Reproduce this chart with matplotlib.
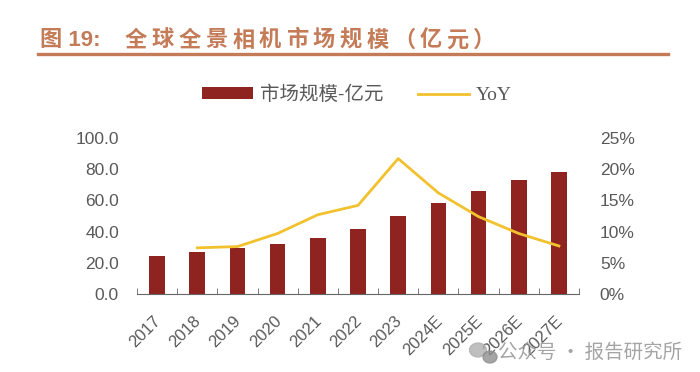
import numpy as np
import matplotlib
matplotlib.use('Agg')
import matplotlib.pyplot as plt
import matplotlib.transforms as mtransforms
from matplotlib.patches import Ellipse
from matplotlib.ticker import FuncFormatter, FixedLocator

plt.rcParams['font.family'] = ['Liberation Sans', 'Noto Sans CJK SC', 'DejaVu Sans']

# Data
years = ['2017', '2018', '2019', '2020', '2021', '2022', '2023',
         '2024E', '2025E', '2026E', '2027E']
market = [24.5, 26.7, 29.3, 31.8, 36.1, 41.5, 50.2, 58.5, 66.0, 72.9, 78.4]
yoy = [np.nan, 7.4, 7.6, 9.7, 12.7, 14.2, 21.7, 16.2, 12.4, 9.7, 7.7]

bar_color = '#8E2320'
line_color = '#F2C12E'
text_gray = '#595959'
title_color = '#C47B57'

W, H = 700, 372
fig = plt.figure(figsize=(W / 100, H / 100), dpi=100)

# title: spaced-out characters, then underline
title_y = 1 - 40 / H
fig.text(40 / W, title_y, '图 19:', fontsize=16, fontweight='bold',
         color=title_color, va='center', ha='left')
title_chars = '全球全景相机市场规模（亿元）'
for i, ch in enumerate(title_chars):
    fig.text((125 + 26.8 * i) / W, title_y, ch, fontsize=16, fontweight='bold',
             color=title_color, va='center', ha='left', family='Noto Sans CJK SC')
fig.add_artist(plt.Line2D([38 / W, 668 / W], [1 - 54 / H, 1 - 54 / H],
                          color=title_color, linewidth=2.4))

ax = fig.add_axes([137 / W, 1 - 294 / H, 442 / W, 156 / H])
x = np.arange(len(years))
ax.bar(x, market, width=0.39, color=bar_color, label='市场规模-亿元', zorder=2)
ax.set_xlim(-0.5, len(years) - 0.5)
ax.set_ylim(0, 100)
ax.set_yticks(np.arange(0, 101, 20))
ax.yaxis.set_major_formatter(FuncFormatter(lambda v, p: f'{v:.1f}'))
ax.tick_params(axis='y', length=0, labelsize=12.5, labelcolor=text_gray, pad=13)

ax.set_xticks(x)
ax.set_xticklabels(years, rotation=45, ha='right', rotation_mode='anchor',
                   fontsize=12, color=text_gray)
ax.tick_params(axis='x', which='major', length=0, pad=10)
shift = mtransforms.ScaledTranslation(-4 / 100, -5 / 100, fig.dpi_scale_trans)
for lab in ax.get_xticklabels():
    lab.set_transform(lab.get_transform() + shift)
ax.xaxis.set_minor_locator(FixedLocator(np.arange(-0.5, len(years), 1.0)))
ax.tick_params(axis='x', which='minor', direction='in', length=4, color='#666666')

for s in ['top', 'left', 'right']:
    ax.spines[s].set_visible(False)
ax.spines['bottom'].set_color('#666666')

ax2 = ax.twinx()
ax2.plot(x, yoy, color=line_color, linewidth=2, label='YoY', zorder=3)
ax2.set_ylim(0, 25)
ax2.set_yticks(np.arange(0, 26, 5))
ax2.yaxis.set_major_formatter(FuncFormatter(lambda v, p: f'{v:.0f}%'))
ax2.tick_params(axis='y', length=0, labelsize=12.5, labelcolor=text_gray, pad=15)
for s in ['top', 'left', 'right', 'bottom']:
    ax2.spines[s].set_visible(False)

h1, l1 = ax.get_legend_handles_labels()
h2, l2 = ax2.get_legend_handles_labels()
leg = fig.legend(h1 + h2, l1 + l2, loc='center', bbox_to_anchor=(357 / W, 1 - 95 / H),
                 ncol=2, frameon=False, fontsize=14, handlelength=2.6,
                 handleheight=0.55, columnspacing=1.8, handletextpad=0.35,
                 labelcolor=text_gray)
leg.get_texts()[1].set_family('Liberation Serif')

# watermark (wechat-style icon + text)
fig.add_artist(Ellipse((478 / W, 1 - 350 / H), 17 / W, 14 / H,
                       color='#b0b0b0', alpha=0.8, transform=fig.transFigure))
fig.add_artist(Ellipse((490 / W, 1 - 357 / H), 14 / W, 12 / H,
                       color='#8f8f8f', alpha=0.8, transform=fig.transFigure))
fig.text(682 / W, 1 - 352 / H, '公众号 · 报告研究所', fontsize=14, color='#9a9a9a',
         ha='right', va='center', alpha=0.9, family='Noto Sans CJK SC')

fig.savefig('out.png', dpi=100)
